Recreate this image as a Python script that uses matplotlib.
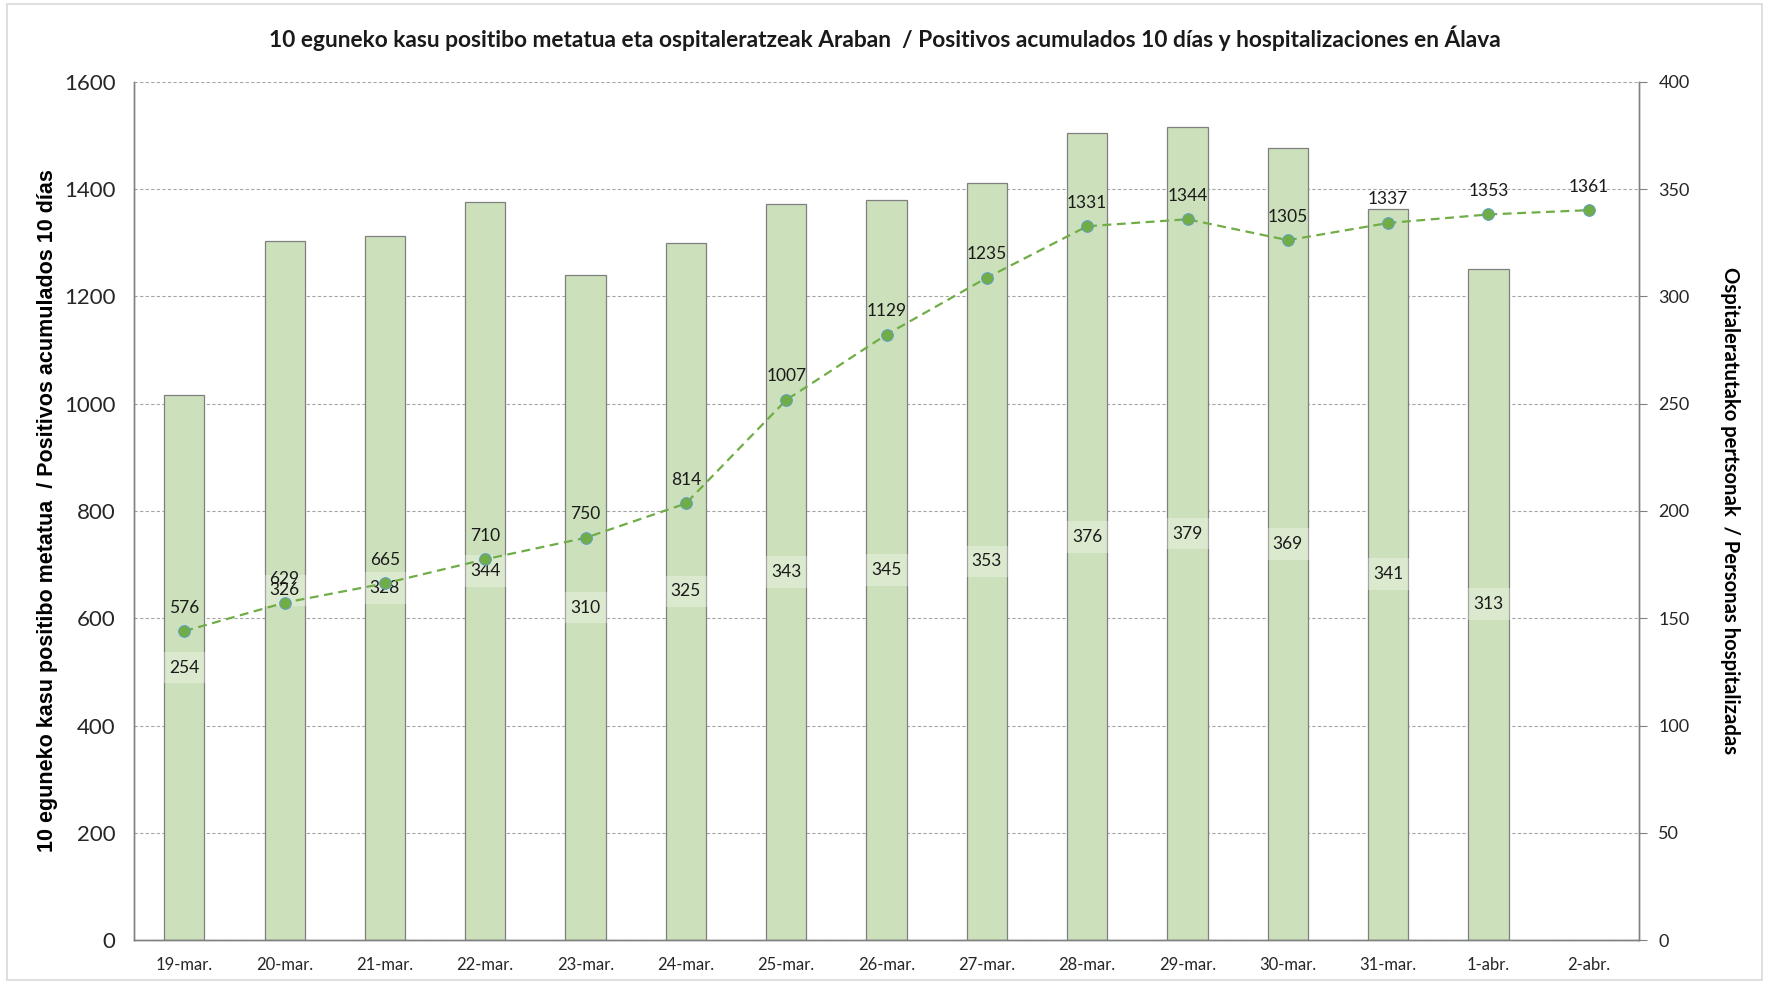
import numpy as np
import matplotlib
matplotlib.use("Agg")
import matplotlib.pyplot as plt
from matplotlib.patches import Rectangle

plt.rcParams['font.family'] = ['Lato', 'DejaVu Sans']

# Data
dates = ['19-mar.', '20-mar.', '21-mar.', '22-mar.', '23-mar.', '24-mar.', '25-mar.',
         '26-mar.', '27-mar.', '28-mar.', '29-mar.', '30-mar.', '31-mar.', '1-abr.', '2-abr.']
positivos = [576, 629, 665, 710, 750, 814, 1007, 1129, 1235, 1331, 1344, 1305, 1337, 1353, 1361]
hospital = [254, 326, 328, 344, 310, 325, 343, 345, 353, 376, 379, 369, 341, 313]

title = ("10 eguneko kasu positibo metatua eta ospitaleratzeak Araban  / "
         "Positivos acumulados 10 días y hospitalizaciones en Álava")
ylabel_left = "10 eguneko kasu positibo metatua  / Positivos acumulados 10 días"
ylabel_right = "Ospitaleratutako pertsonak  / Personas hospitalizadas"

bar_color = '#cce1bb'
line_color = '#70ad47'
grid_color = '#a6a6a6'

fig = plt.figure(figsize=(17.69, 9.84), dpi=100)
fig.patches.append(Rectangle((0.004, 0.004), 0.992, 0.992, transform=fig.transFigure,
                             fill=False, edgecolor='#d9d9d9', linewidth=1.2))

ax_bar = fig.add_axes([0.0758, 0.0447, 0.8507, 0.872])
ax_line = ax_bar.twinx()
x = np.arange(len(dates))
xb = x[:len(hospital)]

# bars -> right axis (hospitalizations)
bars = ax_bar.bar(xb, hospital, width=0.4, color=bar_color, edgecolor='#7f7f7f',
                  linewidth=0.9, zorder=2)
ax_bar.set_ylim(0, 400)
ax_bar.set_yticks(np.arange(0, 401, 50))
ax_bar.yaxis.tick_right()
ax_bar.yaxis.set_label_position('right')
ax_bar.set_axisbelow(True)
ax_bar.grid(axis='y', color=grid_color, linestyle=(0, (3, 2)), linewidth=0.8)
for b, v in zip(bars, hospital):
    ax_bar.text(b.get_x() + b.get_width() / 2, v / 2, str(v), ha='center', va='center',
                fontsize=12.5, color='#1a1a1a', zorder=3,
                bbox=dict(boxstyle='square,pad=0.45', facecolor='white', alpha=0.3,
                          edgecolor='none'))
ax_bar.set_ylabel(ylabel_right, fontsize=14.6, fontweight='bold', rotation=270,
                  labelpad=36)

# line -> left axis (positives)
ax_line.yaxis.tick_left()
ax_line.yaxis.set_label_position('left')
ax_line.plot(x, positivos, color=line_color, linestyle=(0, (4, 2.5)), linewidth=1.6,
             marker='o', markersize=8.5, markerfacecolor=line_color,
             markeredgecolor='#5b9bd5', markeredgewidth=0.6)
for xi, v in zip(x, positivos):
    ax_line.annotate(str(v), (xi, v), xytext=(0, 17), textcoords='offset points',
                     ha='center', va='center', fontsize=12.5, color='#1a1a1a')
ax_line.set_ylim(0, 1600)
ax_line.set_yticks(np.arange(0, 1601, 200))
ax_line.set_ylabel(ylabel_left, fontsize=15.5, fontweight='bold',
                   family=['Liberation Sans', 'DejaVu Sans'], labelpad=4)

ax_bar.set_xlim(-0.5, len(dates) - 0.5)
ax_bar.set_xticks(x)
ax_bar.set_xticklabels(dates, fontsize=12)

for ax in (ax_bar, ax_line):
    ax.spines['top'].set_visible(False)
    for s in ('left', 'right', 'bottom'):
        ax.spines[s].set_color('#808080')
        ax.spines[s].set_linewidth(1.0)

ax_bar.tick_params(axis='x', length=0, pad=12, colors='#262626')
ax_bar.tick_params(axis='y', left=False, right=True, labelleft=False, labelright=True,
                   length=6, color='#808080', labelsize=13, pad=8, labelcolor='#262626')
ax_line.tick_params(axis='y', left=False, right=False, labelleft=True, labelright=False,
                    labelsize=16, pad=10, labelcolor='#262626')

fig.text(0.5, 0.961, title, ha='center', va='center', fontsize=16.4, fontweight='bold',
         color='#1a1a1a')

fig.savefig('out.png', dpi=100)
